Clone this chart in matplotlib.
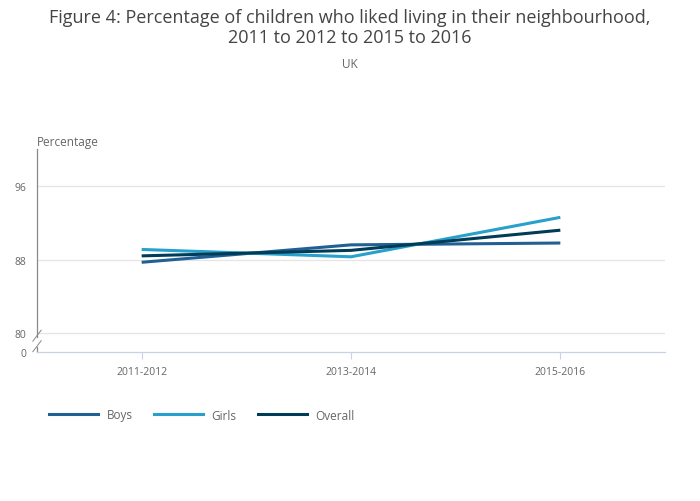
import matplotlib.pyplot as plt
from matplotlib.lines import Line2D

plt.rcParams['font.family'] = ['Open Sans', 'DejaVu Sans']

# data
categories = ['2011-2012', '2013-2014', '2015-2016']
boys = [87.7, 89.6, 89.8]
girls = [89.1, 88.3, 92.6]
overall = [88.4, 89.0, 91.2]

series_names = ['Boys', 'Girls', 'Overall']
series_colors = ['#206095', '#27a0cc', '#003c57']

y_ticks = [80, 88, 96]
zero_pos = 77.92  # where the "0" label sits below the axis break

fig = plt.figure(figsize=(7, 5.02), dpi=100)
ax = fig.add_axes([37 / 700, 1 - 353 / 502, 628 / 700, 203 / 502])

x = list(range(len(categories)))
for vals, name, col in zip([boys, girls, overall], series_names, series_colors):
    ax.plot(x, vals, color=col, lw=2.2, label=name, solid_capstyle='butt', zorder=3)

ax.set_xlim(-0.5, 2.5)
ax.set_ylim(zero_pos, 100.05)

for t in y_ticks:
    ax.axhline(t, color='#e5e5e5', lw=0.9, zorder=1)

ax.set_yticks(y_ticks + [zero_pos])
ax.set_yticklabels([str(t) for t in y_ticks] + ['0'])
ax.set_xticks(x)
ax.set_xticklabels(categories)
ax.tick_params(axis='y', length=0, pad=8, labelsize=7.5, labelcolor='#666666')
ax.tick_params(axis='x', length=5, width=0.8, color='#c8d2e6', pad=5,
               labelsize=7.5, labelcolor='#666666')

for s in ['top', 'right', 'left']:
    ax.spines[s].set_visible(False)
ax.spines['bottom'].set_color('#c8d2e6')
ax.spines['bottom'].set_linewidth(0.9)

# left axis with break marks
ax.plot([-0.5, -0.5], [79.6, 100.05], color='#888888', lw=0.9, clip_on=False)
ax.plot([-0.5, -0.5], [zero_pos, 78.5], color='#888888', lw=0.9, clip_on=False)
ax.plot([-0.52, -0.48], [79.1, 80.3], color='#888888', lw=0.7, clip_on=False)
ax.plot([-0.52, -0.48], [77.95, 79.15], color='#888888', lw=0.7, clip_on=False)

fig.text(0.5, 1 - 28 / 502,
         'Figure 4: Percentage of children who liked living in their neighbourhood,\n'
         '2011 to 2012 to 2015 to 2016',
         ha='center', va='center', fontsize=13, color='#444444', linespacing=1.2)
fig.text(0.5, 1 - 64 / 502, 'UK', ha='center', va='center', fontsize=8.5, color='#666666')
fig.text(37 / 700, 1 - 143 / 502, 'Percentage', ha='left', va='center',
         fontsize=8.5, color='#666666')

handles = [Line2D([], [], color=c, lw=2.2) for c in series_colors]
fig.legend(handles, series_names, loc='center left', bbox_to_anchor=(38 / 700, 1 - 416 / 502),
           ncol=3, frameon=False, handlelength=4.2, handletextpad=0.7, columnspacing=1.8,
           fontsize=8.5, labelcolor='#666666')

fig.savefig('out.png', dpi=100)
